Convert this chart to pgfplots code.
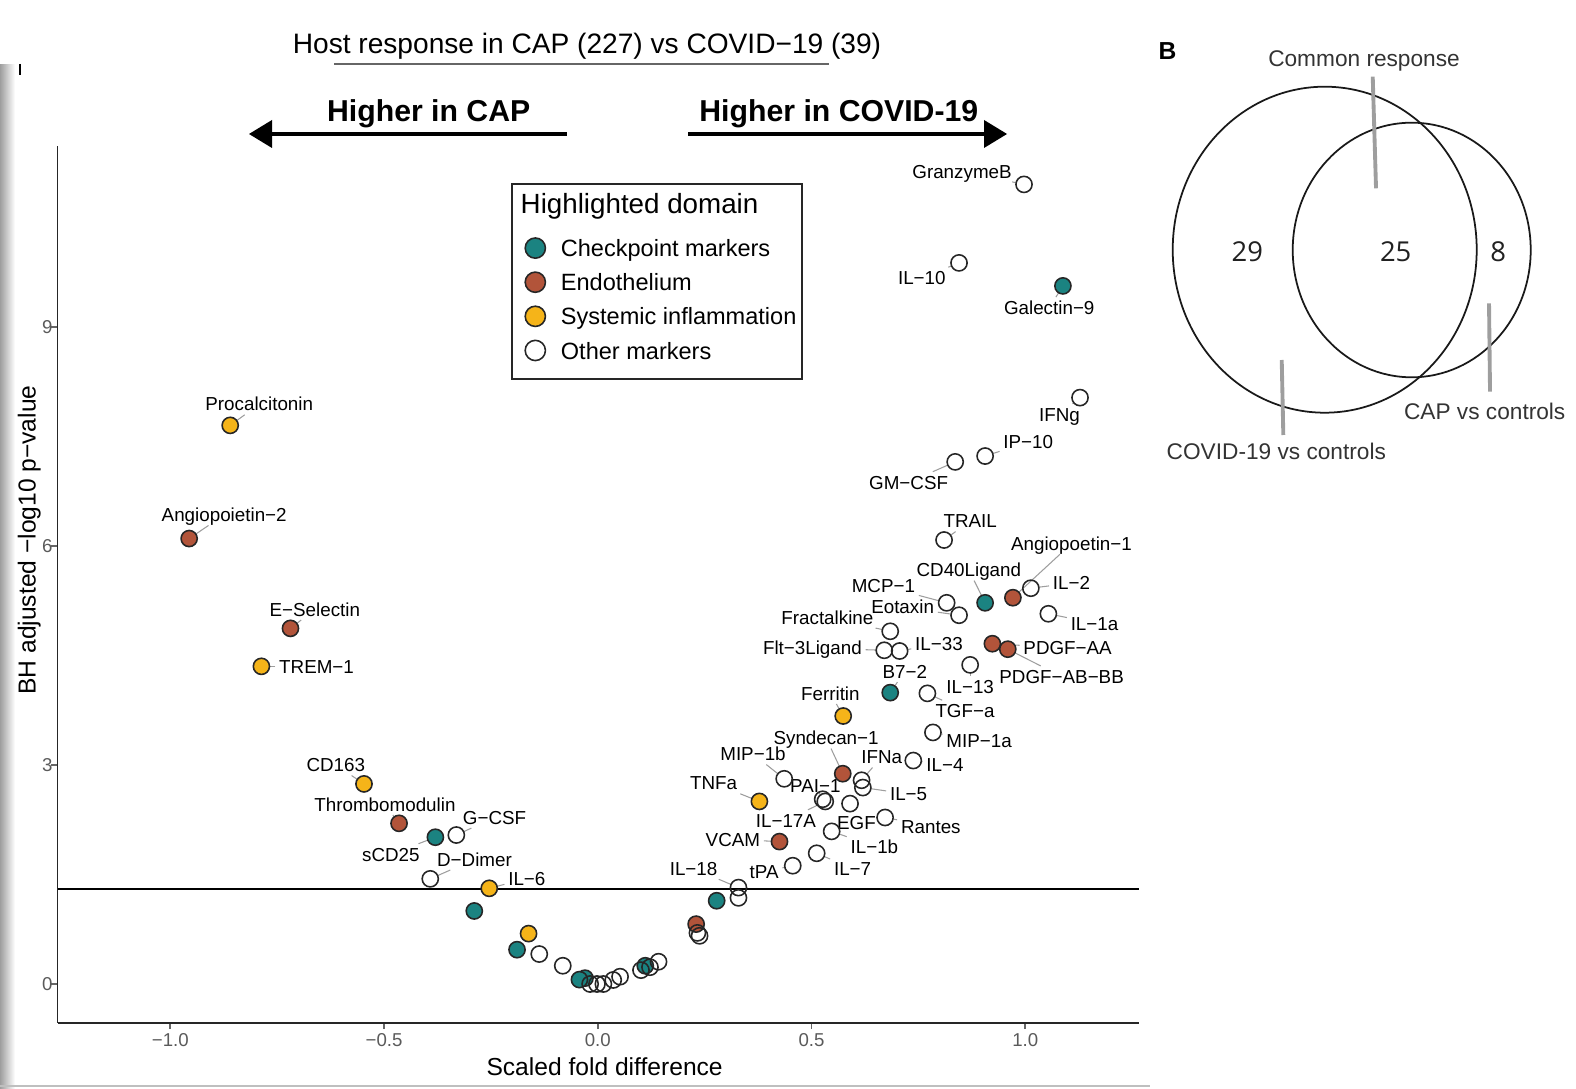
\documentclass[border=0pt]{standalone}
\usepackage{pgfplots}
\pgfplotsset{compat=1.18}
\usepackage{fontspec}
\setmainfont{Liberation Sans}
\newfontfamily\osans{Open Sans}
\definecolor{cteal}{HTML}{1B8381}
\definecolor{cbrown}{HTML}{B2543A}
\definecolor{cyellow}{HTML}{F5B419}
\definecolor{tickgray}{HTML}{5A5A5A}
\newcommand{\fs}[1]{\fontsize{#1}{#1}\selectfont}
\tikzset{
  lbl/.style={font=\fs{5.35}, text height=3.85pt, text depth=0pt, inner sep=0.9pt},
  seg/.style={draw=black!38, line width=0.3pt, shorten >=2.4pt}
}
\newcommand{\lab}[5]{\node[lbl] (L) at (axis cs:#1,#2) {#3}; \draw[seg] (L) -- (axis cs:#4,#5);}
\begin{document}
\begin{tikzpicture}
\path[use as bounding box] (0,0) rectangle (15.76cm,10.88cm);
\begin{axis}[
  at={(0.575cm,0.653cm)}, anchor=south west,
  scale only axis, width=10.815cm, height=8.77cm,
  xmin=-1.264, xmax=1.266, ymin=-0.53, ymax=11.48,
  axis x line*=bottom, axis y line*=left,
  axis line style={black!85, line width=0.55pt},
  xtick={-1,-0.5,0,0.5,1}, xticklabels={−1.0,−0.5,0.0,0.5,1.0},
  ytick={0,3,6,9}, yticklabels={0,3,6,9},
  tick align=outside, major tick length=1.8pt,
  tick style={black!60, line width=0.5pt},
  ticklabel style={font=\fs{5.3}, text=tickgray},
  xticklabel style={inner sep=1pt},
  yticklabel style={inner sep=0pt, xshift=0.6pt},
  clip=false,
  legend style={at={(axis description cs:0.4318,0.8956)}, anchor=north west,
    draw=none, fill=none, inner sep=0pt, row sep=2.98pt, column sep=4.4pt,
    font=\fs{6.7}, nodes={inner xsep=0pt, inner ysep=0pt, text height=4.8pt, text depth=1.4pt}},
  legend cell align=left,
  legend image code/.code={\draw[#1, mark size=2.88pt] plot coordinates {(2.9pt,0.75pt)};},
]
% significance threshold
\addplot[black, line width=0.45pt, forget plot] coordinates {(-1.264,1.301) (1.266,1.301)};

% labels with leader segments
\lab{-0.792}{7.94}{Procalcitonin}{-0.860}{7.65}
\lab{-0.874}{6.425}{Angiopoietin−2}{-0.956}{6.10}
\lab{-0.662}{5.13}{E−Selectin}{-0.719}{4.87}
\lab{-0.658}{4.35}{TREM−1}{-0.787}{4.35}
\lab{-0.613}{3.00}{CD163}{-0.547}{2.74}
\lab{-0.498}{2.46}{Thrombomodulin}{-0.465}{2.20}
\lab{-0.2415}{2.28}{G−CSF}{-0.331}{2.04}
\lab{-0.484}{1.775}{sCD25}{-0.380}{2.01}
\lab{-0.2885}{1.706}{D−Dimer}{-0.392}{1.44}
\lab{-0.166}{1.445}{IL−6}{-0.254}{1.31}
\lab{0.224}{1.58}{IL−18}{0.329}{1.32}
\lab{0.389}{1.54}{tPA}{0.456}{1.62}
\lab{0.596}{1.58}{IL−7}{0.512}{1.79}
\lab{0.316}{1.98}{VCAM}{0.425}{1.95}
\lab{0.647}{1.885}{IL−1b}{0.547}{2.09}
\lab{0.440}{2.24}{IL−17A}{0.532}{2.50}
\lab{0.605}{2.215}{EGF}{0.590}{2.47}
\lab{0.779}{2.16}{Rantes}{0.672}{2.28}
\lab{0.271}{2.75}{TNFa}{0.378}{2.50}
\lab{0.509}{2.72}{PAI−1}{0.526}{2.53}
\lab{0.727}{2.60}{IL−5}{0.620}{2.69}
\lab{0.363}{3.15}{MIP−1b}{0.436}{2.81}
\lab{0.534}{3.37}{Syndecan−1}{0.573}{2.88}
\lab{0.664}{3.11}{IFNa}{0.617}{2.79}
\lab{0.812}{3.00}{IL−4}{0.738}{3.06}
\lab{0.892}{3.33}{MIP−1a}{0.784}{3.445}
\lab{0.859}{3.74}{TGF−a}{0.771}{3.98}
\lab{0.544}{3.98}{Ferritin}{0.574}{3.67}
\lab{0.871}{4.07}{IL−13}{0.871}{4.37}
\lab{0.718}{4.28}{B7−2}{0.684}{3.99}
\lab{1.085}{4.21}{PDGF−AB−BB}{0.959}{4.585}
\lab{1.099}{4.60}{PDGF−AA}{0.923}{4.66}
\lab{0.502}{4.60}{Flt−3Ligand}{0.670}{4.57}
\lab{0.798}{4.66}{IL−33}{0.706}{4.56}
\lab{0.537}{5.02}{Fractalkine}{0.684}{4.83}
\lab{0.713}{5.16}{Eotaxin}{0.845}{5.05}
\lab{0.668}{5.45}{MCP−1}{0.816}{5.22}
\lab{1.162}{4.94}{IL−1a}{1.054}{5.07}
\lab{1.108}{5.49}{IL−2}{1.013}{5.42}
\lab{0.868}{5.67}{CD40Ligand}{0.906}{5.22}
\lab{1.108}{6.03}{Angiopoetin−1}{0.971}{5.29}
\lab{0.871}{6.34}{TRAIL}{0.810}{6.08}
\lab{0.727}{6.87}{GM−CSF}{0.836}{7.15}
\lab{1.007}{7.42}{IP−10}{0.906}{7.23}
\lab{1.080}{7.80}{IFNg}{1.128}{8.03}
\lab{1.056}{9.26}{Galectin−9}{1.088}{9.56}
\lab{0.758}{9.67}{IL−10}{0.845}{9.875}
\lab{0.852}{11.13}{GranzymeB}{0.997}{10.95}

% Checkpoint markers
\addplot[only marks, mark=*, mark size=2.3pt, mark options={fill=cteal, draw=black!85, line width=0.45pt}] coordinates {
(1.088,9.56) (0.906,5.22) (0.684,3.99) (-0.380,2.01) (-0.289,1.00) (-0.189,0.47)
(-0.030,0.08) (-0.043,0.06) (0.111,0.25) (0.278,1.14)};
\addlegendentry{Checkpoint markers}
% Endothelium
\addplot[only marks, mark=*, mark size=2.3pt, mark options={fill=cbrown, draw=black!85, line width=0.45pt}] coordinates {
(-0.956,6.10) (-0.719,4.87) (-0.465,2.20) (0.971,5.29) (0.923,4.66) (0.959,4.585)
(0.573,2.88) (0.425,1.95) (0.230,0.82)};
\addlegendentry{Endothelium}
% Systemic inflammation
\addplot[only marks, mark=*, mark size=2.3pt, mark options={fill=cyellow, draw=black!85, line width=0.45pt}] coordinates {
(-0.860,7.65) (-0.787,4.35) (-0.547,2.74) (-0.254,1.31) (0.574,3.67) (0.378,2.50) (-0.162,0.69)};
\addlegendentry{Systemic inflammation}
% Other markers
\addplot[only marks, mark=o, mark size=2.3pt, mark options={draw=black!85, line width=0.45pt}] coordinates {
(0.997,10.95) (0.845,9.875) (1.128,8.03) (0.906,7.23) (0.836,7.15) (0.810,6.08)
(1.013,5.42) (1.054,5.07) (0.816,5.22) (0.845,5.05) (0.684,4.83) (0.670,4.57)
(0.706,4.56) (0.871,4.37) (0.771,3.98) (0.784,3.445) (0.738,3.06) (0.617,2.79)
(0.620,2.69) (0.436,2.81) (0.526,2.53) (0.532,2.50) (0.590,2.47) (0.672,2.28)
(0.547,2.09) (0.512,1.79) (0.456,1.62) (0.329,1.32) (0.329,1.18)
(-0.331,2.04) (-0.392,1.44) (-0.137,0.41) (-0.082,0.25) (-0.018,0.00) (-0.002,0.00)
(0.013,0.00) (0.036,0.055) (0.052,0.10) (0.101,0.19) (0.122,0.23) (0.142,0.305)
(0.233,0.70) (0.238,0.66)};
\addlegendentry{Other markers}
\end{axis}

\begin{scope}[shift={(0,10.88cm)}, x=0.1mm, y=-0.1mm]
  % screenshot edge artifacts
  \shade[left color=black!38, right color=white] (0,65) rectangle (15,1088);
  \draw[black!25, line width=0.6pt] (0,1086) -- (1150,1086);
  \draw[black, line width=0.4pt] (20,64) -- (20,75);
  % title
  \node[anchor=base, font=\fs{8.0}, inner sep=0] at (587,54) {Host response in CAP (227) vs COVID−19 (39)};
  \draw[black!60, line width=0.55pt] (334,64.3) -- (829,64.3);
  % direction arrows
  \node[anchor=base, font=\bfseries\fs{8.6}, inner sep=0] at (428.7,121.7) {Higher in CAP};
  \node[anchor=base, font=\bfseries\fs{8.6}, inner sep=0] at (838.8,121.7) {Higher in COVID-19};
  \draw[line width=1.4pt] (270,134) -- (567,134);
  \fill (249,134) -- (272,120) -- (272,148) -- cycle;
  \draw[line width=1.4pt] (688,134) -- (986,134);
  \fill (1007,134) -- (984,120) -- (984,148) -- cycle;
  % axis titles
  \node[anchor=base, font=\fs{7.0}, inner sep=0] at (604.6,1075) {Scaled fold difference};
  \node[anchor=base, rotate=90, font=\fs{7.0}, inner sep=0] at (35.5,540) {BH adjusted −log10 p−value};
  % legend frame and title
  \draw[black!85, line width=0.5pt] (511.7,184) rectangle (801.7,379);
  \node[anchor=base west, font=\fs{7.9}, inner sep=0] at (520,213.3) {Highlighted domain};
  % panel B: Venn diagram
  \node[anchor=base west, font=\bfseries\fs{7.0}, inner sep=0] at (1158,60) {B};
  \node[anchor=base, font=\fs{6.45}, text=black!80, inner sep=0] at (1364,66.7) {Common response};
  \draw[black!90, line width=0.5pt] (1324.7,249.7) ellipse [x radius=152, y radius=163];
  \draw[black!90, line width=0.5pt] (1411.7,250) ellipse [x radius=119, y radius=127.3];
  \draw[black!38, line width=1.1pt] (1372.7,76.7) -- (1376,188.3);
  \draw[black!38, line width=1.1pt] (1489,303.3) -- (1490,391.7);
  \draw[black!38, line width=1.1pt] (1281.7,360) -- (1283.3,435);
  \node[font=\osans\fs{7.8}, text=black!87, inner sep=0] at (1247.3,251.7) {29};
  \node[font=\osans\fs{7.8}, text=black!87, inner sep=0] at (1395.7,251.7) {25};
  \node[font=\osans\fs{7.8}, text=black!87, inner sep=0] at (1498.3,251.7) {8};
  \node[anchor=base, font=\fs{6.45}, text=black!80, inner sep=0] at (1484.7,420) {CAP vs controls};
  \node[anchor=base, font=\fs{6.45}, text=black!80, inner sep=0] at (1276.3,459.3) {COVID-19 vs controls};
\end{scope}
\end{tikzpicture}
\end{document}
